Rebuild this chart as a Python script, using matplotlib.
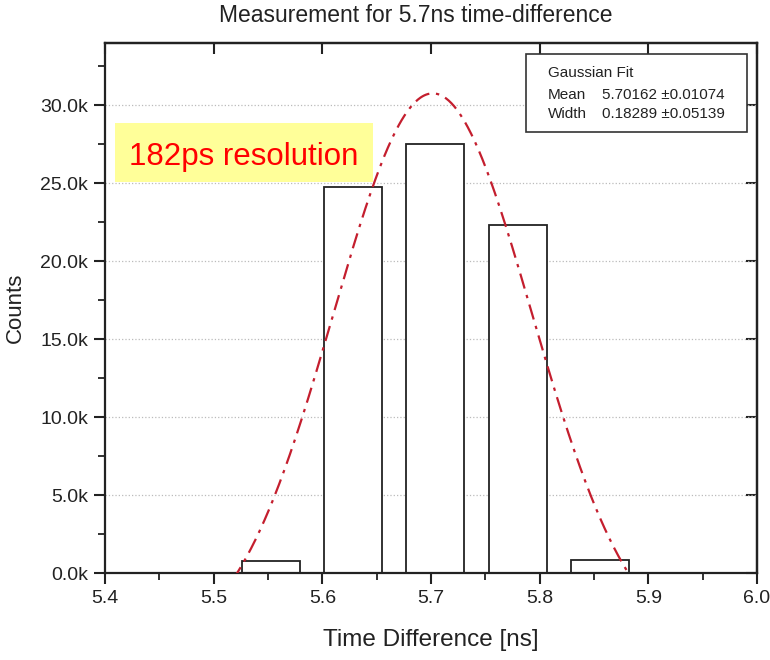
import numpy as np
import matplotlib
matplotlib.use("Agg")
import matplotlib.pyplot as plt
from matplotlib.ticker import MultipleLocator, FuncFormatter
from matplotlib.patches import Rectangle

plt.rcParams['font.family'] = ['Liberation Sans', 'DejaVu Sans']

# Histogram data
bin_centers = [5.553, 5.628, 5.7035, 5.780, 5.8555]
counts = [750, 24750, 27500, 22300, 850]
bar_width = 0.053

# Gaussian fit parameters (Origin-style: y0 + H*exp(-2((x-xc)/w)^2))
fit_mean = 5.70162
fit_mean_err = 0.01074
fit_width = 0.18289
fit_width_err = 0.05139
fit_height = 35950
fit_offset = -5180

fig = plt.figure(figsize=(7.7, 6.6), dpi=100)
ax = fig.add_axes([0.1364, 0.1318, 0.8466, 0.8030])

ax.bar(bin_centers, counts, width=bar_width, facecolor='white',
       edgecolor='#222222', linewidth=1.3, zorder=2)

xf = np.linspace(5.45, 5.95, 600)
yf = fit_offset + fit_height * np.exp(-2 * ((xf - fit_mean) / fit_width) ** 2)
ax.plot(xf, yf, color='#c41e2e', linestyle=(0, (7, 3, 1.5, 3)), linewidth=1.6, zorder=3)

ax.set_xlim(5.4, 6.0)
ax.set_ylim(0, 34000)
ax.xaxis.set_major_locator(MultipleLocator(0.1))
ax.xaxis.set_minor_locator(MultipleLocator(0.05))
ax.yaxis.set_major_locator(MultipleLocator(5000))
ax.yaxis.set_minor_locator(MultipleLocator(2500))
ax.yaxis.set_major_formatter(FuncFormatter(lambda v, p: f"{v/1000:.1f}k"))
ax.xaxis.set_major_formatter(FuncFormatter(lambda v, p: f"{v:.1f}"))

ax.tick_params(which='major', direction='out', length=8, width=1.5, labelsize=14,
               colors='#222222', pad=4)
ax.tick_params(which='minor', direction='out', length=5, width=1.3, colors='#222222')
for s in ax.spines.values():
    s.set_linewidth(1.6)
    s.set_color('#222222')

ax.grid(axis='y', which='major', linestyle=':', color='#bbbbbb', linewidth=0.9, zorder=0)
ax.set_axisbelow(True)

# inward ticks on top & right
secx = ax.secondary_xaxis('top')
secx.xaxis.set_major_locator(MultipleLocator(0.1))
secx.tick_params(direction='in', length=8, width=1.5, labeltop=False, colors='#222222')
secx.spines['top'].set_linewidth(1.6)
secy = ax.secondary_yaxis('right')
secy.yaxis.set_major_locator(MultipleLocator(5000))
secy.tick_params(direction='in', length=8, width=1.5, labelright=False, colors='#222222')
secy.spines['right'].set_linewidth(1.6)

ax.set_xlabel('Time Difference [ns]', fontsize=17.5, color='#222222', va='center')
ax.xaxis.set_label_coords(0.5, -0.126)
ax.set_ylabel('Counts', fontsize=16, color='#222222', va='center')
ax.yaxis.set_label_coords(-0.137, 0.5)
fig.text(0.540, 1 - 15 / 660, 'Measurement for 5.7ns time-difference', fontsize=16.5,
         color='#222222', ha='center', va='center')

# Annotation box
ax.add_patch(Rectangle((0.0153, 0.738), 0.3957, 0.111, transform=ax.transAxes,
                       facecolor='#ffff99', edgecolor='none', zorder=4))
ax.text(0.0368, 0.770, '182ps resolution', transform=ax.transAxes, fontsize=22.5,
        color='#ff0000', va='baseline', ha='left', zorder=5)

# Fit legend box
ax.add_patch(Rectangle((0.646, 0.832), 0.339, 0.147, transform=ax.transAxes,
                       facecolor='white', edgecolor='#333333', linewidth=1.2, zorder=5))
txt_kw = dict(transform=ax.transAxes, fontsize=11, va='center', ha='left',
              color='#222222', zorder=6)
ax.text(0.679, 0.943, 'Gaussian Fit', **txt_kw)
ax.text(0.679, 0.902, 'Mean', **txt_kw)
ax.text(0.679, 0.866, 'Width', **txt_kw)
ax.text(0.762, 0.902, f"{fit_mean:.5f} \u00b1{fit_mean_err:.5f}", **txt_kw)
ax.text(0.762, 0.866, f"{fit_width:.5f} \u00b1{fit_width_err:.5f}", **txt_kw)

fig.savefig('out.png', dpi=100)
